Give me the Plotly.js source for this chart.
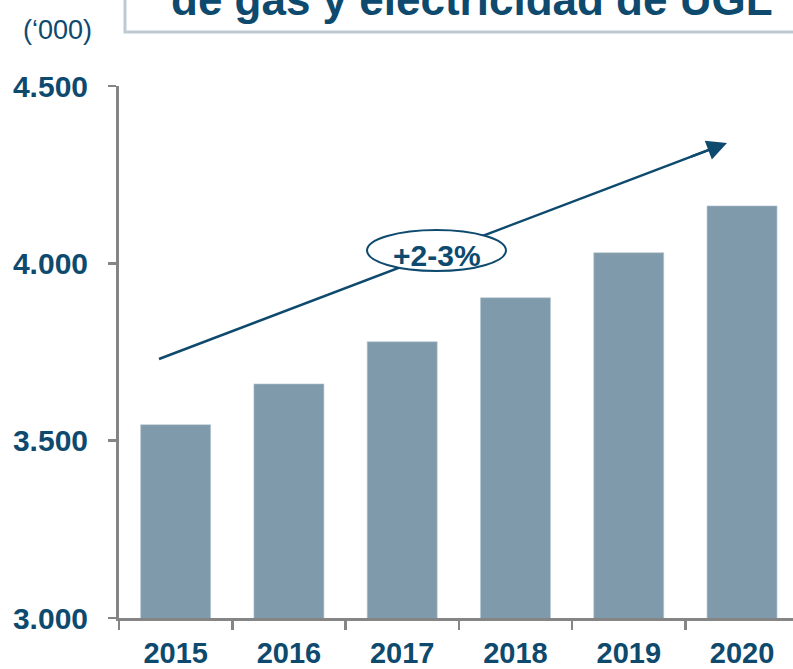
<!DOCTYPE html>
<html>
<head>
<meta charset="utf-8">
<script src="https://cdn.plot.ly/plotly-3.0.1.min.js"></script>
<style>html,body{margin:0;padding:0;background:#fff;}#chart{width:793px;height:669px;}</style>
</head>
<body>
<div id="chart"></div>
<script>
const years = ["2015", "2016", "2017", "2018", "2019", "2020"];
const clients = [3545, 3660, 3779, 3903, 4030, 4162];
const yTickVals = [3000, 3500, 4000, 4500];
const yTickText = ["3.000", "3.500", "4.000", "4.500"];
const titleText = "de gas y electricidad de UGL";
const unitText = "(\u2018000)";
const growthText = "+2-3%";

const W = 793, H = 669;
const M = {l: 119, r: 0, t: 86, b: 51};
const pw = W - M.l - M.r, ph = H - M.t - M.b;
const px = x => (x - M.l) / pw;
const py = y => (H - M.b - y) / ph;

const dark = "#0e4a6e";
const font = "Liberation Sans, Arial, sans-serif";

const trace = {
  type: "bar",
  x: years,
  y: clients,
  marker: {color: "#7f9aab", line: {color: "#b9c8d1", width: 0.6}},
  hoverinfo: "skip"
};

// arrow geometry (pixels)
const tail = [159, 359], head = [727, 143];
const dx = head[0] - tail[0], dy = head[1] - tail[1];
const len = Math.hypot(dx, dy);
const hb = 40;

const layout = {
  width: W, height: H,
  margin: M,
  paper_bgcolor: "#fff", plot_bgcolor: "#fff",
  showlegend: false,
  bargap: 0.382,
  font: {family: font, color: dark},
  xaxis: {
    type: "category",
    range: [-0.5, 5.45],
    showline: true, linecolor: "#858585", linewidth: 3,
    ticks: "outside", tickson: "boundaries", ticklen: 9, tickwidth: 2.5, tickcolor: "#858585",
    tickfont: {family: font, size: 29, color: dark, weight: "bold"},
    ticklabelstandoff: 7,
    showgrid: false, zeroline: false, fixedrange: true
  },
  yaxis: {
    range: [3000, 4500],
    tickvals: yTickVals, ticktext: yTickText,
    showline: true, linecolor: "#858585", linewidth: 3,
    ticks: "outside", ticklen: 8, tickwidth: 2.5, tickcolor: "#858585",
    tickfont: {family: font, size: 30, color: dark, weight: "bold"},
    ticklabelstandoff: 14,
    showgrid: false, zeroline: false, fixedrange: true
  },
  shapes: [
    {type: "rect", xref: "paper", yref: "paper", x0: px(125), x1: px(820), y0: py(32), y1: py(-80),
     line: {color: "#bccbd3", width: 3}, fillcolor: "#fff"},
    {type: "line", xref: "paper", yref: "paper",
     x0: px(tail[0]), y0: py(tail[1]), x1: px(head[0] - dx / len * 20), y1: py(head[1] - dy / len * 20),
     line: {color: dark, width: 2.5}},
    {type: "circle", xref: "paper", yref: "paper", x0: px(367), x1: px(506), y0: py(271), y1: py(230),
     line: {color: dark, width: 2}, fillcolor: "#fff"}
  ],
  annotations: [
    {xref: "paper", yref: "paper", x: px(head[0]), y: py(head[1]), text: "",
     showarrow: true, ax: -dx / len * hb, ay: -dy / len * hb, axref: "pixel", ayref: "pixel",
     arrowhead: 2, arrowsize: 1.6, arrowwidth: 2.5, arrowcolor: dark, standoff: 0},
    {xref: "paper", yref: "paper", x: px(437), y: py(255), text: "<b>" + growthText + "</b>",
     showarrow: false, font: {family: font, size: 30, color: dark}, xanchor: "center", yanchor: "middle"},
    {xref: "paper", yref: "paper", x: px(57.5), y: py(30), text: unitText,
     showarrow: false, font: {family: font, size: 27, color: dark}, xanchor: "center", yanchor: "middle"},
    {xref: "paper", yref: "paper", x: px(472), y: py(-1), text: "<b>" + titleText + "</b>",
     showarrow: false, font: {family: font, size: 44, color: dark}, xanchor: "center", yanchor: "middle"}
  ]
};

Plotly.newPlot("chart", [trace], layout, {staticPlot: true, displayModeBar: false});
</script>
</body>
</html>
